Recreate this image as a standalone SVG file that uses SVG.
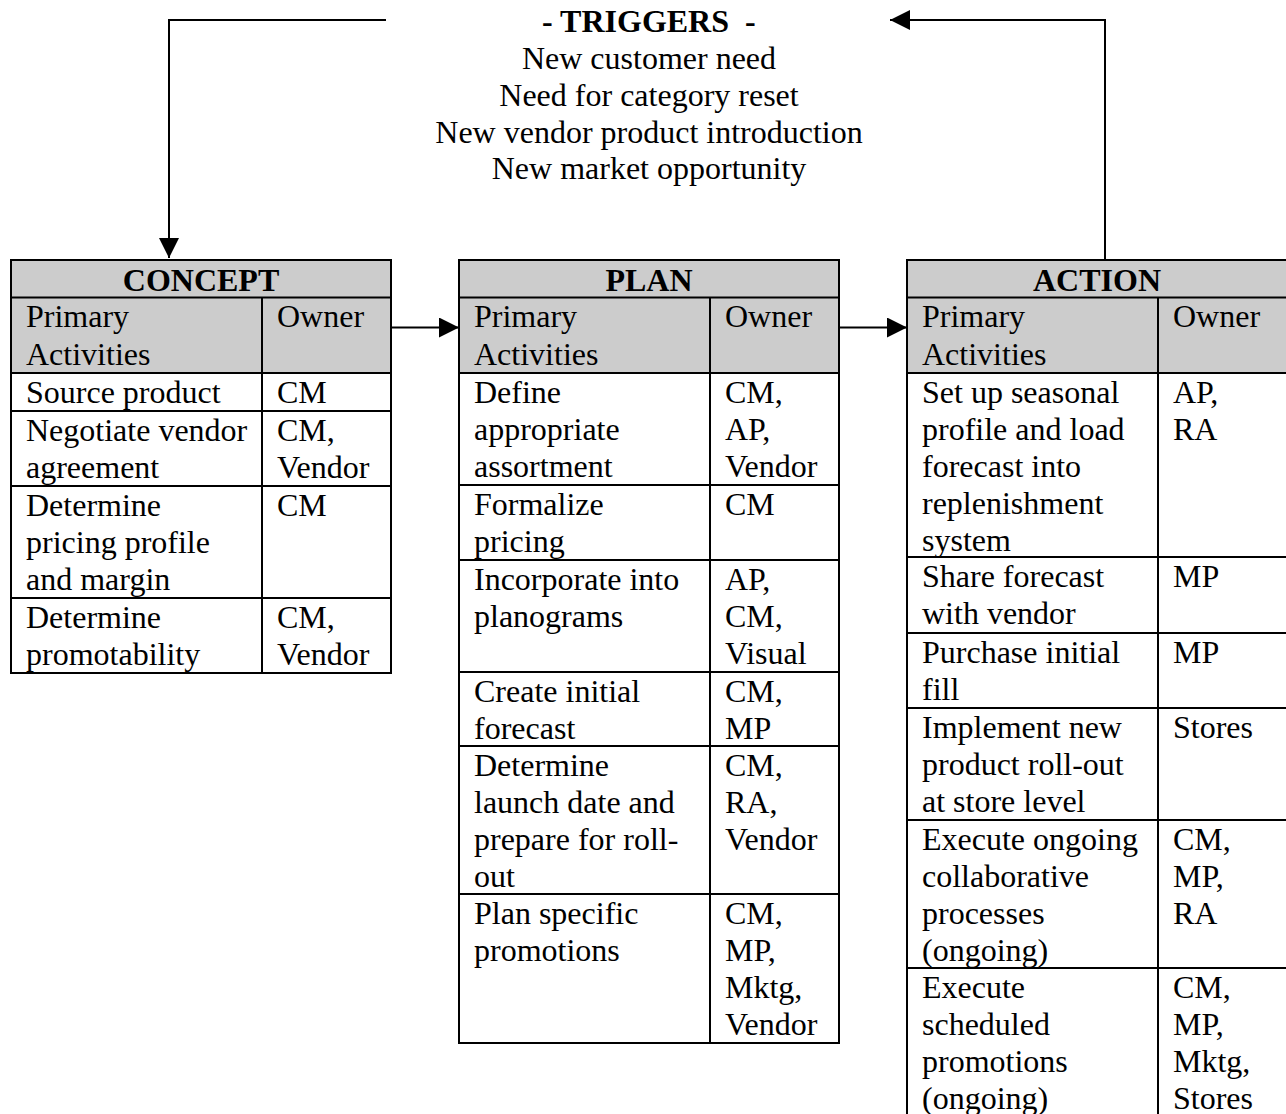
<svg xmlns="http://www.w3.org/2000/svg" width="1286" height="1114" viewBox="0 0 1286 1114">
<style>
text{font-family:"Liberation Serif","Times New Roman",serif;font-size:32px;fill:#000}
.b{font-weight:bold}
.c{text-anchor:middle}
.hd{fill:#cccccc;stroke:none}
.ln{stroke:#000;stroke-width:2;fill:none}
.cn{stroke:#000;stroke-width:2;fill:none}
</style>
<defs>
<marker id="ah" viewBox="0 0 20 20" refX="20" refY="10" markerWidth="20" markerHeight="20" markerUnits="userSpaceOnUse" orient="auto">
<path d="M0,0 L20,10 L0,20 Z" fill="#000"/>
</marker>
</defs>
<rect width="1286" height="1114" fill="#fff"/>

<g id="triggers">
<text x="542" y="32" class="b" xml:space="preserve">- TRIGGERS  -</text>
<text x="649" y="69" class="c">New customer need</text>
<text x="649" y="106" class="c">Need for category reset</text>
<text x="649" y="142.5" class="c">New vendor product introduction</text>
<text x="649" y="179" class="c">New market opportunity</text>
</g>

<g id="concept">
<rect class="hd" x="11" y="260" width="380" height="113"/>
<rect class="ln" x="11" y="260" width="380" height="413"/>
<path class="ln" d="M11,297.5H391M11,373H391M11,411H391M11,486H391M11,598H391M262,297.5V673"/>
<text x="201" y="291" class="b c">CONCEPT</text>
<text x="26" y="327">Primary</text>
<text x="26" y="364.5">Activities</text>
<text x="277" y="327">Owner</text>
<text x="26" y="402.5">Source product</text>
<text x="277" y="402.5">CM</text>
<text x="26" y="440.5">Negotiate vendor</text>
<text x="26" y="477.5">agreement</text>
<text x="277" y="440.5">CM,</text>
<text x="277" y="477.5">Vendor</text>
<text x="26" y="515.5">Determine</text>
<text x="26" y="552.5">pricing profile</text>
<text x="26" y="589.5">and margin</text>
<text x="277" y="515.5">CM</text>
<text x="26" y="627.5">Determine</text>
<text x="26" y="664.5">promotability</text>
<text x="277" y="627.5">CM,</text>
<text x="277" y="664.5">Vendor</text>
</g>

<g id="plan">
<rect class="hd" x="459" y="260" width="380" height="113"/>
<rect class="ln" x="459" y="260" width="380" height="783"/>
<path class="ln" d="M459,297.5H839M459,373H839M459,485H839M459,560H839M459,672H839M459,746H839M459,894H839M710,297.5V1043"/>
<text x="649" y="291" class="b c">PLAN</text>
<text x="474" y="327">Primary</text>
<text x="474" y="364.5">Activities</text>
<text x="725" y="327">Owner</text>
<text x="474" y="402.5">Define</text>
<text x="474" y="439.5">appropriate</text>
<text x="474" y="476.5">assortment</text>
<text x="725" y="402.5">CM,</text>
<text x="725" y="439.5">AP,</text>
<text x="725" y="476.5">Vendor</text>
<text x="474" y="514.5">Formalize</text>
<text x="474" y="551.5">pricing</text>
<text x="725" y="514.5">CM</text>
<text x="474" y="589.5">Incorporate into</text>
<text x="474" y="626.5">planograms</text>
<text x="725" y="589.5">AP,</text>
<text x="725" y="626.5">CM,</text>
<text x="725" y="663.5">Visual</text>
<text x="474" y="701.5">Create initial</text>
<text x="474" y="738.5">forecast</text>
<text x="725" y="701.5">CM,</text>
<text x="725" y="738.5">MP</text>
<text x="474" y="775.5">Determine</text>
<text x="474" y="812.5">launch date and</text>
<text x="474" y="849.5">prepare for roll-</text>
<text x="474" y="886.5">out</text>
<text x="725" y="775.5">CM,</text>
<text x="725" y="812.5">RA,</text>
<text x="725" y="849.5">Vendor</text>
<text x="474" y="923.5">Plan specific</text>
<text x="474" y="960.5">promotions</text>
<text x="725" y="923.5">CM,</text>
<text x="725" y="960.5">MP,</text>
<text x="725" y="997.5">Mktg,</text>
<text x="725" y="1034.5">Vendor</text>
</g>

<g id="action">
<rect class="hd" x="907" y="260" width="400" height="113"/>
<rect class="ln" x="907" y="260" width="400" height="880"/>
<path class="ln" d="M907,297.5H1300M907,373H1300M907,557H1300M907,633H1300M907,708H1300M907,820H1300M907,968H1300M1158,297.5V1130"/>
<text x="1097" y="291" class="b c">ACTION</text>
<text x="922" y="327">Primary</text>
<text x="922" y="364.5">Activities</text>
<text x="1173" y="327">Owner</text>
<text x="922" y="402.5">Set up seasonal</text>
<text x="922" y="439.5">profile and load</text>
<text x="922" y="476.5">forecast into</text>
<text x="922" y="513.5">replenishment</text>
<text x="922" y="550.5">system</text>
<text x="1173" y="402.5">AP,</text>
<text x="1173" y="439.5">RA</text>
<text x="922" y="586.5">Share forecast</text>
<text x="922" y="623.5">with vendor</text>
<text x="1173" y="586.5">MP</text>
<text x="922" y="662.5">Purchase initial</text>
<text x="922" y="699.5">fill</text>
<text x="1173" y="662.5">MP</text>
<text x="922" y="737.5">Implement new</text>
<text x="922" y="774.5">product roll-out</text>
<text x="922" y="811.5">at store level</text>
<text x="1173" y="737.5">Stores</text>
<text x="922" y="849.5">Execute ongoing</text>
<text x="922" y="886.5">collaborative</text>
<text x="922" y="923.5">processes</text>
<text x="922" y="960.5">(ongoing)</text>
<text x="1173" y="849.5">CM,</text>
<text x="1173" y="886.5">MP,</text>
<text x="1173" y="923.5">RA</text>
<text x="922" y="997.5">Execute</text>
<text x="922" y="1034.5">scheduled</text>
<text x="922" y="1071.5">promotions</text>
<text x="922" y="1108.5">(ongoing)</text>
<text x="1173" y="997.5">CM,</text>
<text x="1173" y="1034.5">MP,</text>
<text x="1173" y="1071.5">Mktg,</text>
<text x="1173" y="1108.5">Stores</text>
</g>

<g id="connectors">
<path class="cn" d="M386,20H169V258" marker-end="url(#ah)"/>
<path class="cn" d="M1105,259V20H890" marker-end="url(#ah)"/>
<path class="cn" d="M391,327.5H459" marker-end="url(#ah)"/>
<path class="cn" d="M839,327.5H907" marker-end="url(#ah)"/>
</g>
</svg>
